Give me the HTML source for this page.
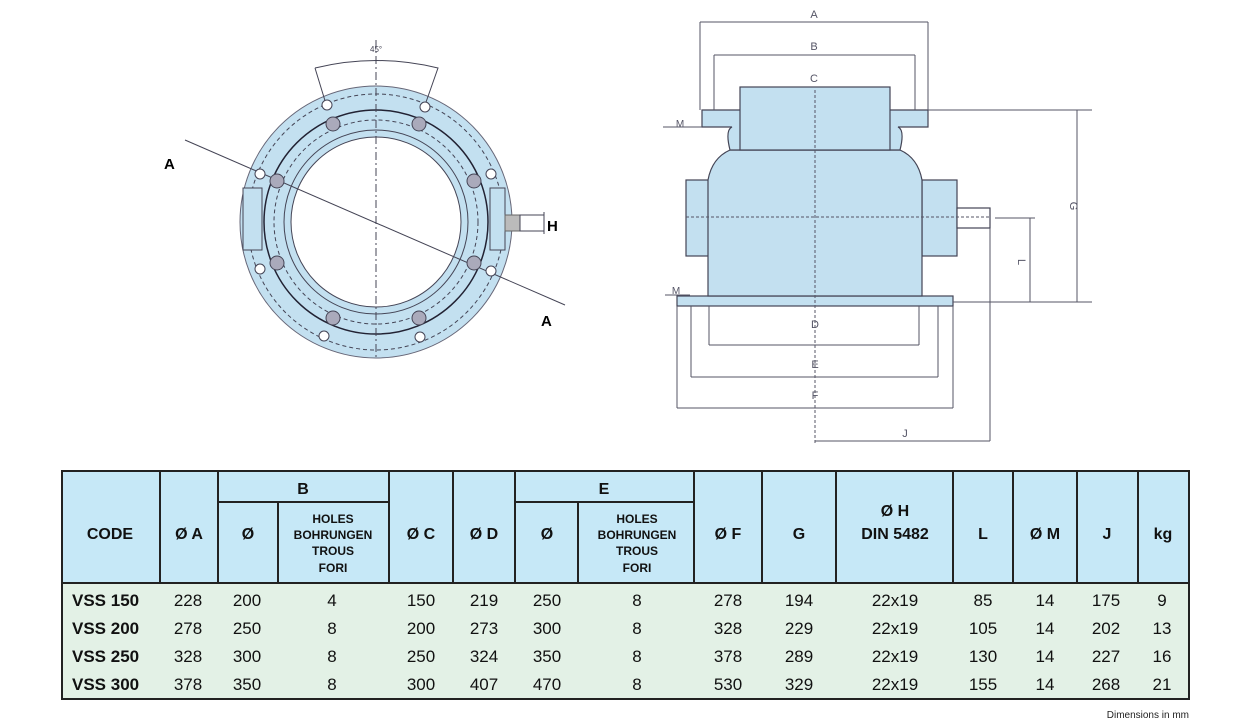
<!DOCTYPE html>
<html><head><meta charset="utf-8"><style>
html,body{margin:0;padding:0;background:#fff;}
svg{display:block;font-family:"Liberation Sans",Arial,sans-serif;}
</style></head><body>
<svg width="1253" height="724" viewBox="0 0 1253 724" xmlns="http://www.w3.org/2000/svg">
<!-- LEFT VIEW -->
<g fill="none" stroke="#445" stroke-width="1">
  <circle cx="376" cy="222" r="136" fill="#c3e0f0" stroke="#667"/>
  <circle cx="376" cy="222" r="128" stroke-dasharray="4,3"/>
  <circle cx="376" cy="222" r="112" stroke="#223" stroke-width="1.5"/>
  <circle cx="376" cy="222" r="102" stroke-dasharray="4,3"/>
  <circle cx="376" cy="222" r="92"/>
  <circle cx="376" cy="222" r="85" fill="#fff"/>
  <rect x="243" y="188" width="19" height="62" fill="#c3e0f0"/>
  <rect x="490" y="188" width="15" height="62" fill="#c3e0f0"/>
  <rect x="505" y="215" width="15" height="16" fill="#bbb" stroke="#666"/>
  <rect x="520" y="215" width="24" height="16" fill="#fff"/>
  <line x1="544" y1="212" x2="544" y2="234"/>
  <line x1="376" y1="40" x2="376" y2="360" stroke-dasharray="8,3,2,3"/>
  <line x1="185" y1="140" x2="565" y2="305"/>
  <path d="M315 68 Q376 53 438 68 L425 105 M315 68 L326 104"/>
</g>
<g stroke="#445" stroke-width="1">
  <g fill="#aab">
    <circle cx="333" cy="124" r="7"/><circle cx="419" cy="124" r="7"/>
    <circle cx="277" cy="181" r="7"/><circle cx="474" cy="181" r="7"/>
    <circle cx="277" cy="263" r="7"/><circle cx="474" cy="263" r="7"/>
    <circle cx="333" cy="318" r="7"/><circle cx="419" cy="318" r="7"/>
  </g>
  <g fill="#fff">
    <circle cx="327" cy="105" r="5"/><circle cx="425" cy="107" r="5"/>
    <circle cx="260" cy="174" r="5"/><circle cx="491" cy="174" r="5"/>
    <circle cx="260" cy="269" r="5"/><circle cx="491" cy="271" r="5"/>
    <circle cx="324" cy="336" r="5"/><circle cx="420" cy="337" r="5"/>
  </g>
</g>
<text x="370" y="52" font-size="8" fill="#445">45°</text>
<text x="164" y="169" font-size="15" font-weight="bold">A</text>
<text x="541" y="326" font-size="15" font-weight="bold">A</text>
<text x="547" y="231" font-size="15" font-weight="bold">H</text>

<!-- RIGHT VIEW -->
<g fill="#c3e0f0" stroke="#445" stroke-width="1.2">
  <rect x="686" y="180" width="24" height="76"/>
  <rect x="922" y="180" width="35" height="76"/>
  <rect x="677" y="296" width="276" height="10"/>
  <path d="M708 296 L708 180 Q712 158 730 150 L900 150 Q918 158 922 180 L922 296 Z"/>
  <path d="M730 150 Q725 130 732 127 L702 127 L702 110 L928 110 L928 127 L898 127 Q905 130 900 150 Z"/>
  <rect x="740" y="87" width="150" height="63"/>
  <rect x="957" y="208" width="33" height="20" fill="#fff"/>
</g>
<g fill="none" stroke="#556" stroke-width="1">
  <line x1="815" y1="90" x2="815" y2="445" stroke-dasharray="3,2"/>
  <line x1="686" y1="217" x2="990" y2="217" stroke-dasharray="3,2"/>
  <line x1="700" y1="22" x2="928" y2="22"/><line x1="700" y1="22" x2="700" y2="110"/><line x1="928" y1="22" x2="928" y2="110"/>
  <line x1="714" y1="55" x2="915" y2="55"/><line x1="714" y1="55" x2="714" y2="110"/><line x1="915" y1="55" x2="915" y2="110"/>
  <line x1="709" y1="345" x2="919" y2="345"/><line x1="709" y1="306" x2="709" y2="345"/><line x1="919" y1="306" x2="919" y2="345"/>
  <line x1="691" y1="377" x2="938" y2="377"/><line x1="691" y1="306" x2="691" y2="377"/><line x1="938" y1="306" x2="938" y2="377"/>
  <line x1="677" y1="408" x2="953" y2="408"/><line x1="677" y1="306" x2="677" y2="408"/><line x1="953" y1="306" x2="953" y2="408"/>
  <line x1="815" y1="441" x2="990" y2="441"/><line x1="990" y1="228" x2="990" y2="441"/>
  <line x1="928" y1="110" x2="1092" y2="110"/><line x1="953" y1="302" x2="1092" y2="302"/>
  <line x1="1077" y1="110" x2="1077" y2="302"/>
  <line x1="995" y1="218" x2="1035" y2="218"/><line x1="1030" y1="218" x2="1030" y2="302"/>
  <line x1="663" y1="127" x2="702" y2="127"/><line x1="665" y1="295" x2="690" y2="295"/>
</g>
<g font-size="11" fill="#556" text-anchor="middle">
  <text x="814" y="18">A</text><text x="814" y="50">B</text><text x="814" y="82">C</text>
  <text x="815" y="328">D</text><text x="815" y="368">E</text><text x="815" y="399">F</text>
  <text x="905" y="437">J</text>
  <text x="1070" y="206" transform="rotate(90 1070 206)">G</text>
  <text x="1018" y="262" transform="rotate(90 1018 262)">L</text>
  <text x="680" y="127" font-size="10">M</text><text x="676" y="294" font-size="10">M</text>
</g>

<!-- TABLE -->
<rect x="62" y="471" width="1127" height="112" fill="#c6e8f7"/>
<rect x="62" y="583" width="1127" height="116" fill="#e3f1e6"/>
<g stroke="#222" stroke-width="2" fill="none">
  <rect x="62" y="471" width="1127" height="228"/>
  <line x1="62" y1="583" x2="1189" y2="583"/>
  <line x1="218" y1="502" x2="389" y2="502"/><line x1="515" y1="502" x2="694" y2="502"/>
  <g>
    <line x1="160" y1="471" x2="160" y2="583"/><line x1="218" y1="471" x2="218" y2="583"/>
    <line x1="278" y1="502" x2="278" y2="583"/><line x1="389" y1="471" x2="389" y2="583"/>
    <line x1="453" y1="471" x2="453" y2="583"/><line x1="515" y1="471" x2="515" y2="583"/>
    <line x1="578" y1="502" x2="578" y2="583"/><line x1="694" y1="471" x2="694" y2="583"/>
    <line x1="762" y1="471" x2="762" y2="583"/><line x1="836" y1="471" x2="836" y2="583"/>
    <line x1="953" y1="471" x2="953" y2="583"/><line x1="1013" y1="471" x2="1013" y2="583"/>
    <line x1="1077" y1="471" x2="1077" y2="583"/><line x1="1138" y1="471" x2="1138" y2="583"/>
  </g>
</g>
<g font-weight="bold" font-size="16" text-anchor="middle" fill="#111">
  <text x="303" y="494">B</text><text x="604" y="494">E</text>
  <text x="110" y="539">CODE</text><text x="189" y="539">Ø A</text><text x="248" y="539">Ø</text>
  <text x="421" y="539">Ø C</text><text x="484" y="539">Ø D</text><text x="547" y="539">Ø</text>
  <text x="728" y="539">Ø F</text><text x="799" y="539">G</text>
  <text x="895" y="516">Ø H</text><text x="895" y="539">DIN 5482</text>
  <text x="983" y="539">L</text><text x="1045" y="539">Ø M</text><text x="1107" y="539">J</text><text x="1163" y="539">kg</text>
</g>
<g font-weight="bold" font-size="12" text-anchor="middle" fill="#111">
  <text x="333" y="523">HOLES</text><text x="333" y="539">BOHRUNGEN</text><text x="333" y="555">TROUS</text><text x="333" y="572">FORI</text>
  <text x="637" y="523">HOLES</text><text x="637" y="539">BOHRUNGEN</text><text x="637" y="555">TROUS</text><text x="637" y="572">FORI</text>
</g>
<g font-size="17" fill="#111">
  <g font-weight="bold"><text x="72" y="606">VSS 150</text><text x="72" y="634">VSS 200</text><text x="72" y="662">VSS 250</text><text x="72" y="690">VSS 300</text></g>
  <g text-anchor="middle">
    <text x="188" y="606">228</text><text x="247" y="606">200</text><text x="332" y="606">4</text><text x="421" y="606">150</text><text x="484" y="606">219</text><text x="547" y="606">250</text><text x="637" y="606">8</text><text x="728" y="606">278</text><text x="799" y="606">194</text><text x="895" y="606">22x19</text><text x="983" y="606">85</text><text x="1045" y="606">14</text><text x="1106" y="606">175</text><text x="1162" y="606">9</text>
    <text x="188" y="634">278</text><text x="247" y="634">250</text><text x="332" y="634">8</text><text x="421" y="634">200</text><text x="484" y="634">273</text><text x="547" y="634">300</text><text x="637" y="634">8</text><text x="728" y="634">328</text><text x="799" y="634">229</text><text x="895" y="634">22x19</text><text x="983" y="634">105</text><text x="1045" y="634">14</text><text x="1106" y="634">202</text><text x="1162" y="634">13</text>
    <text x="188" y="662">328</text><text x="247" y="662">300</text><text x="332" y="662">8</text><text x="421" y="662">250</text><text x="484" y="662">324</text><text x="547" y="662">350</text><text x="637" y="662">8</text><text x="728" y="662">378</text><text x="799" y="662">289</text><text x="895" y="662">22x19</text><text x="983" y="662">130</text><text x="1045" y="662">14</text><text x="1106" y="662">227</text><text x="1162" y="662">16</text>
    <text x="188" y="690">378</text><text x="247" y="690">350</text><text x="332" y="690">8</text><text x="421" y="690">300</text><text x="484" y="690">407</text><text x="547" y="690">470</text><text x="637" y="690">8</text><text x="728" y="690">530</text><text x="799" y="690">329</text><text x="895" y="690">22x19</text><text x="983" y="690">155</text><text x="1045" y="690">14</text><text x="1106" y="690">268</text><text x="1162" y="690">21</text>
  </g>
</g>
<text x="1189" y="718" font-size="10" text-anchor="end" fill="#222">Dimensions in mm</text>
</svg>
</body></html>
